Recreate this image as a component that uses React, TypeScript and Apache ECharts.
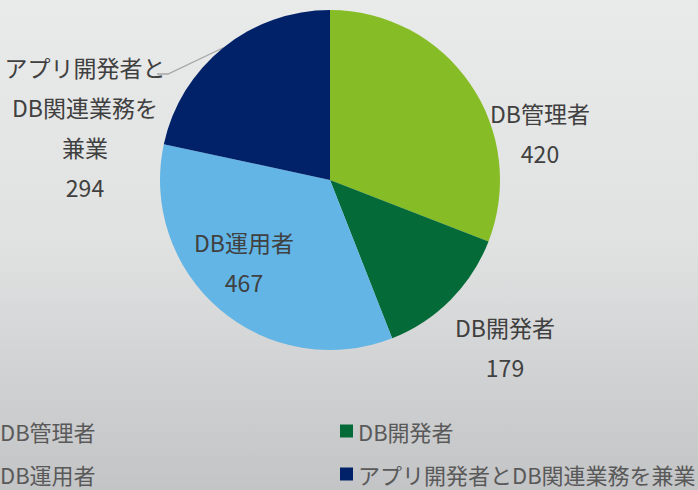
import React, { useEffect, useRef } from "react";
import * as echarts from "echarts";

const categories = ["DB管理者", "DB開発者", "DB運用者", "アプリ開発者とDB関連業務を兼業"];
const values = [420, 179, 467, 294];
const labelNames = ["DB管理者", "DB開発者", "DB運用者", "アプリ開発者と\nDB関連業務を\n兼業"];
const colors = ["#86BC25", "#046A38", "#62B5E5", "#012169"];
const labelCenters = [
  [540, 133],
  [505, 347],
  [244, 262],
  [85, 127],
];
const legendSpots = [
  [-18, 420],
  [340, 420],
  [-18, 463],
  [340, 463],
];

export default function App() {
  const ref = useRef<HTMLDivElement>(null);
  useEffect(() => {
    if (!ref.current) return;
    const chart = echarts.init(ref.current, null, { renderer: "svg" });
    const font = '"Noto Sans CJK JP", "Noto Sans", sans-serif';
    chart.setOption({
      animation: false,
      backgroundColor: {
        type: "linear",
        x: 0,
        y: 0,
        x2: 0,
        y2: 1,
        colorStops: [
          { offset: 0, color: "#e9eaea" },
          { offset: 0.5, color: "#e0e1e1" },
          { offset: 1, color: "#c3c4c6" },
        ],
      },
      color: colors,
      legend: categories.map((c, i) => ({
        data: [c],
        left: legendSpots[i][0],
        top: legendSpots[i][1],
        padding: 0,
        itemWidth: 13,
        itemHeight: 13,
        itemGap: 5,
        icon: "rect",
        textStyle: { fontSize: 22, lineHeight: 22, color: "#595959", fontFamily: font },
      })),
      series: [
        {
          type: "pie",
          center: [330, 180],
          radius: 170,
          startAngle: 90,
          clockwise: true,
          avoidLabelOverlap: false,
          itemStyle: { borderWidth: 0 },
          emphasis: { disabled: true },
          label: {
            show: true,
            position: "outside",
            fontSize: 23,
            lineHeight: 40,
            color: "#404040",
            fontFamily: font,
            align: "center",
            formatter: (p: any) => labelNames[p.dataIndex] + "\n" + p.value,
          },
          labelLine: { show: false },
          labelLayout: (p: any) => {
            const out: any = {
              x: labelCenters[p.dataIndex][0],
              y: labelCenters[p.dataIndex][1],
              align: "center",
              verticalAlign: "middle",
            };
            if (p.dataIndex === 3 && p.labelLinePoints) {
              const s = p.labelLinePoints[0];
              out.labelLinePoints = [s, [168, 74], [157, 74]];
            }
            return out;
          },
          data: categories.map((c, i) => ({
            name: c,
            value: values[i],
            labelLine:
              i === 3
                ? { show: true, lineStyle: { color: "#a6a6a6", width: 1.3 }, length: 10, length2: 10 }
                : { show: false },
          })),
        },
      ],
    });
    return () => chart.dispose();
  }, []);
  return (
    <div
      ref={ref}
      style={{ position: "absolute", left: 0, top: 0, width: 698, height: 490 }}
    />
  );
}
